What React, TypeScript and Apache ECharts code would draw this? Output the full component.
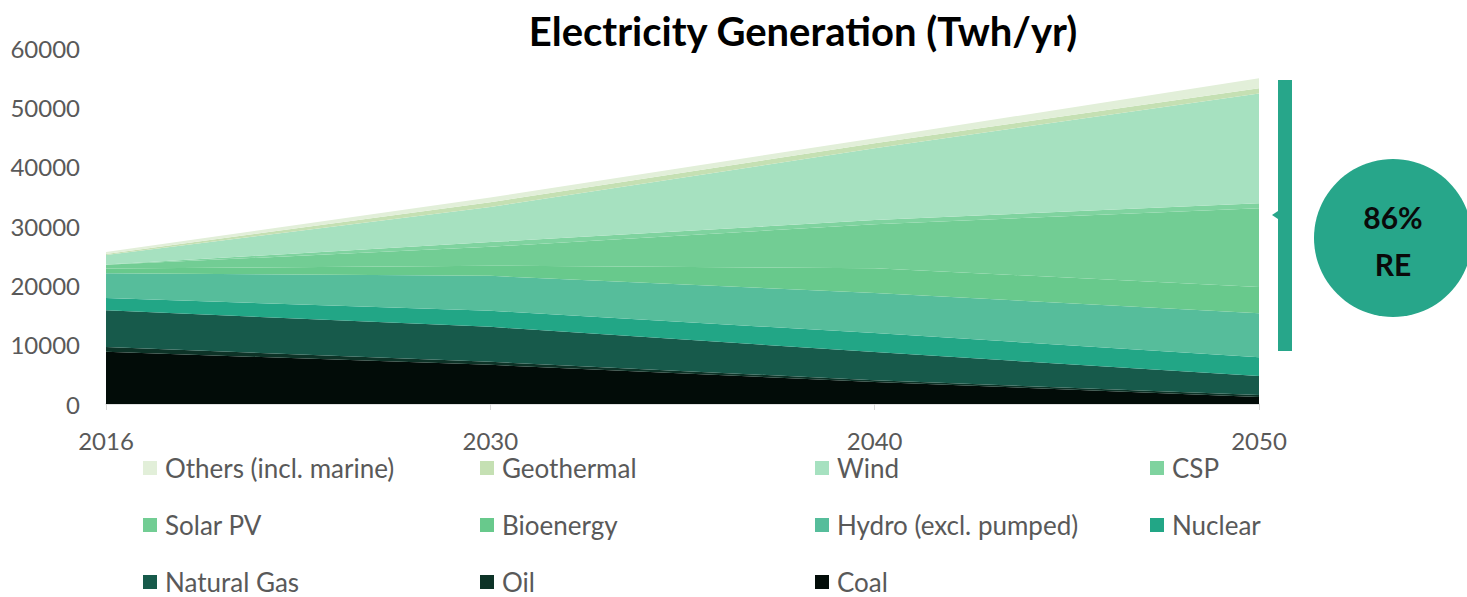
import React, { useEffect, useRef } from "react";
import * as echarts from "echarts";

// Years on the horizontal axis
const years = ["2016", "2030", "2040", "2050"];

// Generation by source, TWh/yr, stacked bottom to top
const coal = [8800, 6600, 3700, 1200];
const oil = [800, 500, 300, 300];
const naturalGas = [6200, 5900, 4750, 3200];
const nuclear = [2050, 2700, 3200, 3200];
const hydro = [4200, 5900, 6750, 7400];
const bioenergy = [800, 1700, 4200, 4400];
const solarPV = [600, 3200, 7400, 13300];
const csp = [50, 800, 700, 850];
const wind = [1600, 5900, 12100, 18500];
const geothermal = [200, 800, 850, 850];
const others = [300, 800, 850, 1700];

const yTicks = [0, 10000, 20000, 30000, 40000, 50000, 60000];
const reShareLabel = "86%";
const reLabel = "RE";

const seriesDefs = [
  { name: "Coal", data: coal, color: "#020c08" },
  { name: "Oil", data: oil, color: "#0d3327" },
  { name: "Natural Gas", data: naturalGas, color: "#175a4b" },
  { name: "Nuclear", data: nuclear, color: "#22a686" },
  { name: "Hydro (excl. pumped)", data: hydro, color: "#56bd9b" },
  { name: "Bioenergy", data: bioenergy, color: "#68c98c" },
  { name: "Solar PV", data: solarPV, color: "#72cd94" },
  { name: "CSP", data: csp, color: "#7fd39f" },
  { name: "Wind", data: wind, color: "#a6e1c0" },
  { name: "Geothermal", data: geothermal, color: "#c5e0b3" },
  { name: "Others (incl. marine)", data: others, color: "#e2efd9" },
];

// Legend grid: 3 rows x 4 columns, read left-to-right
const legendOrder = [
  "Others (incl. marine)", "Geothermal", "Wind", "CSP",
  "Solar PV", "Bioenergy", "Hydro (excl. pumped)", "Nuclear",
  "Natural Gas", "Oil", "Coal",
];
const legendCols = [143, 480, 815, 1150];
const legendRows = [467, 524, 581];

const FONT = "Lato, 'Open Sans', sans-serif";
const GRAY = "#595959";

export default function App() {
  const ref = useRef<HTMLDivElement>(null);

  useEffect(() => {
    if (!ref.current) return;
    const chart = echarts.init(ref.current, null, { renderer: "svg" });

    const legends = legendOrder.map((name, i) => ({
      data: [name],
      left: legendCols[i % 4],
      top: legendRows[Math.floor(i / 4)] - 12,
      icon: "rect",
      itemWidth: 14,
      itemHeight: 14,
      itemGap: 0,
      padding: 0,
      selectedMode: false,
      textStyle: {
        fontFamily: FONT,
        fontSize: 26,
        color: GRAY,
        padding: [0, 0, 0, 3],
        lineHeight: 24,
      },
    }));

    chart.setOption({
      animation: false,
      backgroundColor: "#ffffff",
      title: {
        text: "Electricity Generation (Twh/yr)",
        left: 798,
        textAlign: "center",
        top: 6,
        textStyle: {
          fontFamily: FONT,
          fontWeight: "bold",
          fontSize: 40,
          color: "#000000",
        },
      },
      legend: legends,
      grid: { left: 106, right: 208, top: 48, bottom: 193, containLabel: false },
      xAxis: {
        type: "category",
        data: years,
        boundaryGap: false,
        axisLine: { lineStyle: { color: "#d9d9d9", width: 1.5 } },
        axisTick: { show: true, length: 6, lineStyle: { color: "#d9d9d9" } },
        axisLabel: {
          fontFamily: FONT,
          fontSize: 24,
          color: GRAY,
          margin: 25,
          lineHeight: 22,
        },
        splitLine: { show: false },
      },
      yAxis: {
        type: "value",
        min: yTicks[0],
        max: yTicks[yTicks.length - 1],
        interval: yTicks[1] - yTicks[0],
        axisLine: { show: false },
        axisTick: { show: false },
        splitLine: { show: false },
        axisLabel: {
          fontFamily: FONT,
          fontSize: 24,
          color: GRAY,
          margin: 26,
          formatter: (v: number) => String(v),
        },
      },
      series: seriesDefs.map((s) => ({
        name: s.name,
        type: "line",
        stack: "total",
        data: s.data,
        symbol: "none",
        showSymbol: false,
        lineStyle: { width: 0 },
        itemStyle: { color: s.color },
        areaStyle: { color: s.color, opacity: 1 },
        emphasis: { disabled: true },
      })),
      graphic: [
        {
          type: "rect",
          shape: { x: 1278, y: 80, width: 14, height: 271 },
          style: { fill: "#27a68a" },
        },
        {
          type: "polygon",
          shape: { points: [[1272, 215], [1278, 211], [1278, 219]] },
          style: { fill: "#27a68a" },
        },
        {
          type: "circle",
          shape: { cx: 1393, cy: 238, r: 79 },
          style: { fill: "#27a68a" },
        },
        {
          type: "text",
          x: 1393,
          y: 217,
          style: {
            text: reShareLabel,
            fontFamily: FONT,
            fontWeight: "bold",
            fontSize: 30,
            fill: "#0a0a0a",
            align: "center",
            verticalAlign: "middle",
          },
        },
        {
          type: "text",
          x: 1393,
          y: 264,
          style: {
            text: reLabel,
            fontFamily: FONT,
            fontWeight: "bold",
            fontSize: 30,
            fill: "#0a0a0a",
            align: "center",
            verticalAlign: "middle",
          },
        },
      ],
    });

    return () => chart.dispose();
  }, []);

  return (
    <div
      ref={ref}
      style={{ position: "fixed", left: 0, top: 0, width: 1467, height: 597 }}
    />
  );
}
